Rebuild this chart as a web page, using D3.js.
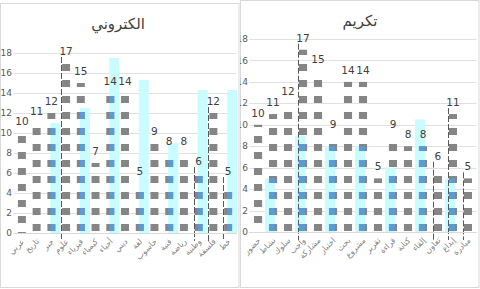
<!doctype html>
<html>
<head>
<meta charset="utf-8">
<script src="https://cdn.jsdelivr.net/npm/d3@7"></script>
<style>
  body { margin: 0; background: #fff; }
  svg { display: block; font-family: "DejaVu Sans", "Noto Sans", sans-serif; }
</style>
</head>
<body>
<div id="viz"></div>
<script>
// data
var leftTitle = "الكتروني";
var rightTitle = "تكريم";
var leftCats = ["عربي", "تاريخ", "جبر", "علوم", "فيزياء", "كيمياء", "أحياء", "ديني",
                "لغة", "حاسوب", "فنية", "رياضة", "وطنية", "فلسفة", "خط"];
var rightCats = ["حضور", "نشاط", "سلوك", "واجب", "مشاركة", "اختبار", "بحث", "مشروع",
                 "تقرير", "قراءة", "كتابة", "إلقاء", "تعاون", "إبداع", "مبادرة"];
var leftGray  = [10, 11, 12, 17, 15, 7, 14, 14, 5, 9, 8, 8, 6, 12, 5];
var leftCyan  = [null, null, 11, null, 12.5, null, 17.5, null, 15.3, null, 9, null, 14.3, null, 14.3];
var rightGray = [10, 11, 12, 17, 15, 9, 14, 14, 5, 9, 8, 8, 6, 11, 5];
var rightCyan = [null, 5, null, 9, null, 8, null, 8, null, 6, null, 10.5, null, 5, null];
var leftTicks  = [0, 2, 4, 6, 8, 10, 12, 14, 16, 18];
var rightTicks = [0, 2, 4, 6, 8, 10, 12, 14, 16, 18];

var W = 480, H = 289;
var svg = d3.select("#viz").append("svg")
    .attr("width", W)
    .attr("height", H);

var defs = svg.append("defs");
function blockPattern(id, color, offset) {
  var p = defs.append("pattern")
      .attr("id", id)
      .attr("patternUnits", "userSpaceOnUse")
      .attr("x", 0).attr("y", offset)
      .attr("width", W).attr("height", 16);
  p.append("rect")
      .attr("x", 0).attr("y", 0)
      .attr("width", W).attr("height", 7)
      .attr("fill", color);
}
blockPattern("grayBlocks", "#858585", 0);
blockPattern("grayBlocksAlt", "#858585", 8);
blockPattern("blueBlocks", "#5b9bd5", 0);

function drawPanel(opts) {
  var clipId = opts.id + "clip";
  defs.append("clipPath").attr("id", clipId)
    .append("rect")
      .attr("x", opts.left).attr("y", 0)
      .attr("width", opts.right - opts.left).attr("height", H);

  var g = svg.append("g").attr("clip-path", "url(#" + clipId + ")");

  // frame
  g.append("rect")
      .attr("x", opts.left + 0.5).attr("y", opts.top + 0.5)
      .attr("width", opts.right - opts.left - 1.5)
      .attr("height", H - opts.top - 2)
      .attr("fill", "#fff")
      .attr("stroke", "#d9d9d9");

  var x = d3.scaleBand()
      .domain(d3.range(opts.cats.length))
      .range(opts.xRange)
      .paddingInner(0.46)
      .paddingOuter(0.3);
  var y = d3.scaleLinear()
      .domain([0, opts.max])
      .range(opts.yRange);
  var bw = x.bandwidth();

  // gridlines
  g.selectAll(".grid")
    .data(opts.ticks)
    .enter().append("line")
      .attr("x1", opts.xRange[0]).attr("x2", opts.xRange[1])
      .attr("y1", function(d) { return Math.round(y(d)) + 0.5; })
      .attr("y2", function(d) { return Math.round(y(d)) + 0.5; })
      .attr("stroke", "#e0e0e0");

  // y tick labels
  g.selectAll(".ytick")
    .data(opts.ticks)
    .enter().append("text")
      .attr("x", opts.tickX)
      .attr("y", function(d) { return y(d); })
      .attr("dy", "0.35em")
      .attr("text-anchor", "end")
      .attr("font-size", 9)
      .attr("fill", "#595959")
      .text(function(d) { return d; });

  // highlight (cyan) bars
  var cyanIdx = d3.range(opts.cats.length).filter(function(i) { return opts.cyan[i] != null; });
  g.selectAll(".cyan")
    .data(cyanIdx)
    .enter().append("rect")
      .attr("x", function(i) { return x(i) + opts.cyanShift; })
      .attr("y", function(i) { return y(opts.cyan[i]); })
      .attr("width", 10)
      .attr("height", function(i) { return y(0) - y(opts.cyan[i]); })
      .attr("fill", "#c8fcff");

  // gray block bars
  g.selectAll(".bar")
    .data(opts.gray)
    .enter().append("rect")
      .attr("x", function(d, i) { return x(i); })
      .attr("y", function(d) { return y(d); })
      .attr("width", bw)
      .attr("height", function(d) { return y(0) - y(d); })
      .attr("fill", function(d, i) { return i === 0 ? "url(#grayBlocksAlt)" : "url(#grayBlocks)"; });

  // blue where blocks sit inside the highlight
  g.selectAll(".blue")
    .data(cyanIdx)
    .enter().append("rect")
      .attr("x", function(i) { return Math.max(x(i), x(i) + opts.cyanShift); })
      .attr("y", function(i) { return y(Math.min(opts.gray[i], opts.cyan[i])); })
      .attr("width", function(i) {
        var a = Math.max(x(i), x(i) + opts.cyanShift);
        var b = Math.min(x(i) + bw, x(i) + opts.cyanShift + 10);
        return Math.max(0, b - a);
      })
      .attr("height", function(i) { return y(0) - y(Math.min(opts.gray[i], opts.cyan[i])); })
      .attr("fill", "url(#blueBlocks)");

  // dashed guides
  g.selectAll(".guide")
    .data(opts.guides)
    .enter().append("line")
      .attr("x1", function(i) { return Math.round(x(i)) - 0.5; })
      .attr("x2", function(i) { return Math.round(x(i)) - 0.5; })
      .attr("y1", function(i) { return y(opts.gray[i]) - 6; })
      .attr("y2", y(0) + 8)
      .attr("stroke", "#595959")
      .attr("stroke-dasharray", "6,2");

  // baseline
  g.append("line")
      .attr("x1", opts.xRange[0]).attr("x2", opts.xRange[1])
      .attr("y1", Math.round(y(0)) + 0.5).attr("y2", Math.round(y(0)) + 0.5)
      .attr("stroke", "#d9d9d9");

  // value labels
  g.selectAll(".val")
    .data(opts.gray)
    .enter().append("text")
      .attr("x", function(d, i) { return x(i) + bw / 2; })
      .attr("y", function(d) { return y(d) - 8; })
      .attr("text-anchor", "middle")
      .attr("font-size", 10.5)
      .attr("fill", "#404040")
      .text(function(d) { return d; });

  // category labels
  g.selectAll(".cat")
    .data(opts.cats)
    .enter().append("text")
      .attr("transform", function(d, i) {
        return "translate(" + (x(i) + bw / 2 + 3) + "," + (y(0) + 9) + ") rotate(-45)";
      })
      .attr("text-anchor", "end")
      .attr("font-size", 8)
      .attr("fill", "#7f7f7f")
      .text(function(d) { return d; });

  // title
  g.append("text")
      .attr("x", opts.titleX).attr("y", opts.titleY)
      .attr("text-anchor", "middle")
      .attr("font-size", 15)
      .attr("fill", "#404040")
      .text(opts.title);
}

drawPanel({
  id: "L", left: 0, right: 240, top: 3,
  cats: leftCats, gray: leftGray, cyan: leftCyan, ticks: leftTicks,
  max: 19, xRange: [13.5, 236.5], yRange: [233, 43], tickX: 12,
  cyanShift: 3, guides: [3, 12, 13, 14],
  title: leftTitle, titleX: 118, titleY: 29
});
drawPanel({
  id: "R", left: 240, right: 480, top: 0,
  cats: rightCats, gray: rightGray, cyan: rightCyan, ticks: rightTicks,
  max: 18, xRange: [249.5, 476.5], yRange: [232, 39], tickX: 248,
  cyanShift: -4, guides: [3, 12, 13, 14],
  title: rightTitle, titleX: 360, titleY: 26
});
</script>
</body>
</html>
